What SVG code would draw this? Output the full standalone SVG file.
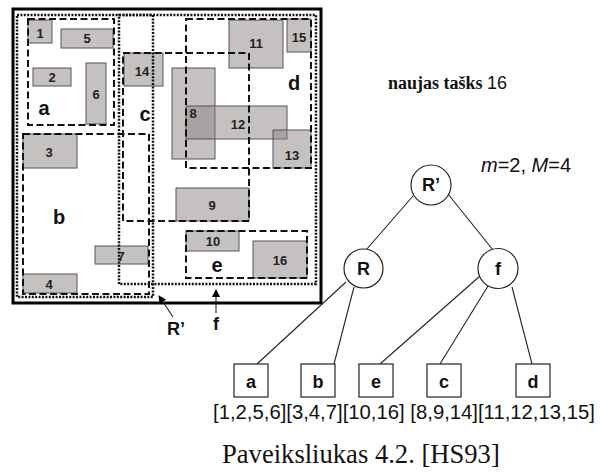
<svg xmlns="http://www.w3.org/2000/svg" width="601" height="475" viewBox="0 0 601 475">
  <style>
    .box { fill: #8c8484; fill-opacity: 0.5; stroke: #555; stroke-width: 1; }
    .num { font-family: "Liberation Sans", Arial, sans-serif; font-weight: bold; font-size: 13px; fill: #222; text-anchor: middle; }
    .reg { font-family: "Liberation Sans", Arial, sans-serif; font-weight: bold; font-size: 20px; fill: #111; text-anchor: middle; }
    .dash { fill: none; stroke: #111; stroke-width: 2; stroke-dasharray: 7 3.5; }
    .dot { fill: none; stroke: #111; stroke-width: 2.5; stroke-dasharray: 2 1.4; }
    .frame { fill: none; stroke: #000; stroke-width: 3; }
    .node { fill: #fff; stroke: #222; stroke-width: 1.2; }
    .lab { font-family: "Liberation Sans", Arial, sans-serif; font-weight: bold; font-size: 18px; fill: #111; text-anchor: middle; }
    .edge { stroke: #222; stroke-width: 1.1; fill: none; }
    .txt { font-family: "Liberation Sans", Arial, sans-serif; fill: #111; }
  </style>
  <defs>
    <marker id="head" markerWidth="8" markerHeight="8" refX="7" refY="4" orient="auto" markerUnits="userSpaceOnUse">
      <path d="M0,0 L8,4 L0,8 Z" fill="#000"/>
    </marker>
  </defs>
  <rect width="601" height="475" fill="#fff"/>

  <!-- data rectangles -->
  <g id="rects">
    <rect class="box" x="28" y="20" width="24" height="23"/>
    <rect class="box" x="61" y="29" width="52" height="19"/>
    <rect class="box" x="33" y="68" width="38" height="18"/>
    <rect class="box" x="86" y="63" width="20" height="61"/>
    <rect class="box" x="124" y="53" width="39" height="33"/>
    <rect class="box" x="23" y="134" width="54" height="34"/>
    <rect class="box" x="23" y="274" width="54" height="19"/>
    <rect class="box" x="95" y="246" width="53" height="18"/>
    <rect class="box" x="229" y="20" width="54" height="48"/>
    <rect class="box" x="287" y="19" width="24" height="33"/>
    <rect class="box" x="172" y="68" width="43" height="91"/>
    <rect class="box" x="186" y="106" width="101" height="33"/>
    <rect class="box" x="273" y="130" width="38" height="38"/>
    <rect class="box" x="176" y="188" width="73" height="33"/>
    <rect class="box" x="186" y="231" width="53" height="20"/>
    <rect class="box" x="253" y="241" width="54" height="37"/>
  </g>

  <!-- bounding regions -->
  <g id="regions">
    <rect class="frame" x="13" y="9" width="308" height="294"/>
    <rect class="dot" x="17" y="15" width="136" height="282"/>
    <rect class="dot" x="119" y="15" width="197" height="269"/>
    <rect class="dash" x="28" y="19" width="86" height="106"/>
    <rect class="dash" x="23" y="134" width="126" height="160"/>
    <rect class="dash" x="123" y="53" width="126" height="168"/>
    <rect class="dash" x="186" y="19" width="125" height="149"/>
    <rect class="dash" x="186" y="231" width="121" height="47"/>
  </g>

  <g id="rect-labels">
    <text class="num" x="40" y="38">1</text>
    <text class="num" x="87" y="43">5</text>
    <text class="num" x="52" y="82">2</text>
    <text class="num" x="96" y="99">6</text>
    <text class="num" x="142" y="76">14</text>
    <text class="num" x="49" y="157">3</text>
    <text class="num" x="49" y="289">4</text>
    <text class="num" x="121" y="261">7</text>
    <text class="num" x="256" y="48">11</text>
    <text class="num" x="299" y="42">15</text>
    <text class="num" x="193" y="118">8</text>
    <text class="num" x="238" y="129">12</text>
    <text class="num" x="292" y="160">13</text>
    <text class="num" x="212" y="210">9</text>
    <text class="num" x="213" y="246">10</text>
    <text class="num" x="280" y="265">16</text>
  </g>

  <g id="region-labels">
    <text class="reg" x="44" y="115">a</text>
    <text class="reg" x="59" y="224">b</text>
    <text class="reg" x="145" y="121">c</text>
    <text class="reg" x="294" y="90">d</text>
    <text class="reg" x="217" y="272">e</text>
  </g>

  <!-- pointers under the frame -->
  <g id="pointers">
    <line class="edge" x1="173" y1="317" x2="159" y2="296" stroke-width="2.2" marker-end="url(#head)"/>
    <text class="lab" x="176" y="335">R’</text>
    <line class="edge" x1="216" y1="313" x2="216" y2="290" stroke-width="2.2" marker-end="url(#head)"/>
    <text class="lab" x="216" y="330">f</text>
  </g>

  <text id="new-point" x="388" y="89" font-family="'Liberation Serif', 'Times New Roman', serif" font-weight="bold" font-size="18" fill="#111">naujas tašks <tspan font-family="'Liberation Sans', Arial, sans-serif" font-weight="normal">16</tspan></text>
  <text id="params" class="txt" x="481" y="172" font-size="20"><tspan font-style="italic">m</tspan>=2, <tspan font-style="italic">M</tspan>=4</text>

  <!-- tree edges -->
  <g id="edges">
    <line class="edge" x1="413" y1="196" x2="366" y2="250"/>
    <line class="edge" x1="448" y1="194" x2="493" y2="250"/>
    <line class="edge" x1="346" y1="282" x2="257" y2="364"/>
    <line class="edge" x1="354" y1="287" x2="334" y2="364"/>
    <line class="edge" x1="480" y1="276" x2="380" y2="364"/>
    <line class="edge" x1="488" y1="286" x2="440" y2="364"/>
    <line class="edge" x1="512" y1="287" x2="532" y2="364"/>
  </g>

  <g id="node-Rp"><circle class="node" cx="431" cy="185" r="20"/><text class="lab" x="431" y="191">R’</text></g>
  <g id="node-R"><circle class="node" cx="363.5" cy="268.5" r="19.5"/><text class="lab" x="363.5" y="275">R</text></g>
  <g id="node-f"><circle class="node" cx="498" cy="268.5" r="20"/><text class="lab" x="498" y="275">f</text></g>

  <g id="leaf-a"><rect class="node" x="234" y="364" width="34" height="33"/><text class="lab" x="251" y="388">a</text></g>
  <g id="leaf-b"><rect class="node" x="301" y="364" width="34" height="33"/><text class="lab" x="318" y="388">b</text></g>
  <g id="leaf-e"><rect class="node" x="359" y="364" width="34" height="33"/><text class="lab" x="376" y="388">e</text></g>
  <g id="leaf-c"><rect class="node" x="427" y="364" width="34" height="33"/><text class="lab" x="444" y="388">c</text></g>
  <g id="leaf-d"><rect class="node" x="516" y="364" width="34" height="33"/><text class="lab" x="533" y="388">d</text></g>

  <text id="entries" class="txt" x="213" y="419" font-size="20.3">[1,2,5,6][3,4,7][10,16] [8,9,14][11,12,13,15]</text>

  <text id="caption" x="222" y="463" font-family="'Liberation Serif', 'Times New Roman', serif" font-size="26.6" fill="#111">Paveiksliukas 4.2. [HS93]</text>
</svg>
